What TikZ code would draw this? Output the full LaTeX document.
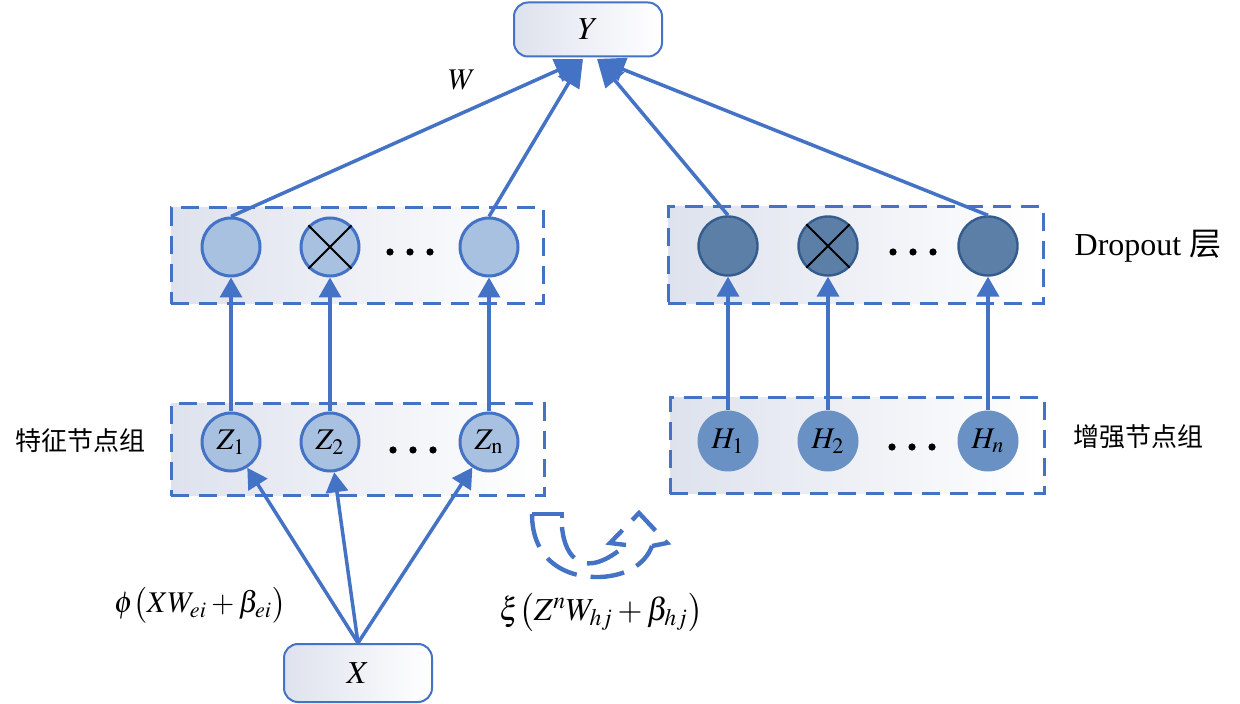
\documentclass[tikz,border=0pt]{standalone}
\usepackage{mathptmx}
\usepackage{fontspec}
\setmainfont{Liberation Serif}
\newfontfamily\cjk{Noto Sans CJK SC}
\usetikzlibrary{arrows.meta,shapes.geometric}
\definecolor{lb}{RGB}{68,114,196}
\definecolor{cfill}{RGB}{168,193,224}
\definecolor{dfill}{RGB}{92,127,168}
\definecolor{dstroke}{RGB}{52,92,140}
\definecolor{hfill}{RGB}{106,145,196}
\definecolor{bgl}{RGB}{222,226,237}
\tikzset{
  grp/.style={draw=lb, line width=1.5pt, dash pattern=on 9pt off 5pt, left color=bgl, right color=white, inner sep=0pt},
  ioBox/.style={draw=lb, line width=1pt, rounded corners=7pt, left color=bgl, right color=white, minimum width=74pt, minimum height=27pt, inner sep=0pt, font=\fontsize{16pt}{19pt}\selectfont},
  lc/.style={circle, draw=lb, line width=1.5pt, fill=cfill, minimum size=29pt, inner sep=0pt, font=\fontsize{15pt}{18pt}\selectfont},
  dc/.style={circle, draw=dstroke, line width=1.2pt, fill=dfill, minimum size=29.5pt, inner sep=0pt},
  hc/.style={circle, fill=hfill, minimum size=30.5pt, inner sep=0pt, font=\fontsize{15pt}{18pt}\selectfont},
  arr/.style={draw=lb, line width=1.75pt, -{Triangle[length=10pt,width=11pt]}},
  arrY/.style={draw=lb, line width=1.75pt, -{Triangle[length=14pt,width=12pt]}},
  crossln/.style={draw=black, line width=1pt},
  cdash/.style={draw=lb, line width=2.2pt, dash pattern=on 17pt off 7pt},
  dotf/.style={fill=black},
  cnlab/.style={font=\cjk\fontsize{13pt}{15pt}\selectfont},
  mlab/.style={font=\fontsize{16pt}{19pt}\selectfont},
}
\begin{document}
\begin{tikzpicture}[x=0.5pt, y=-0.5pt]
\useasboundingbox (0,0) rectangle (1240,704);
% group boxes
\node[grp, minimum width=186pt, minimum height=48pt] (G1) at (357,256) {};
\node[grp, minimum width=187.5pt, minimum height=48.5pt] (G2) at (855.5,255.5) {};
\node[grp, minimum width=186.5pt, minimum height=46pt] (G3) at (357.5,450) {};
\node[grp, minimum width=187pt, minimum height=48pt] (G4) at (857,446) {};
% dropout circles left
\node[lc] (D1) at (231,247) {};
\node[lc] (D2) at (330,247) {};
\node[lc] (D3) at (489,247) {};
\draw[crossln] (D2.45) -- (D2.225) (D2.135) -- (D2.315);
% dropout circles right
\node[dc] (E1) at (728,246) {};
\node[dc] (E2) at (828,246) {};
\node[dc] (E3) at (988,246) {};
\draw[crossln] (E2.45) -- (E2.225) (E2.135) -- (E2.315);
% feature nodes
\node[lc] (Z1) at (231,442) {$Z_{1}$};
\node[lc] (Z2) at (330,442) {$Z_{2}$};
\node[lc] (Z3) at (489,442) {$Z_{\mathrm{n}}$};
% enhancement nodes
\node[hc] (H1) at (728,441) {$H_{1}$};
\node[hc] (H2) at (828,441) {$H_{2}$};
\node[hc] (H3) at (988,441) {$H_{n}$};
% dots
\foreach \x in {390,410,430} \fill[dotf] (\x,252) circle (1.8pt);
\foreach \x in {893,913,933} \fill[dotf] (\x,252) circle (1.8pt);
\foreach \x in {393,413,433} \fill[dotf] (\x,450) circle (1.8pt);
\foreach \x in {892,912,932} \fill[dotf] (\x,447) circle (1.8pt);
% X box
\node[ioBox, minimum height=29pt] (X) at (358,673) {$X$};
% vertical arrows
\draw[arr] (Z1) -- (D1);
\draw[arr] (Z2) -- (D2);
\draw[arr] (Z3) -- (D3);
\draw[arr] (H1) -- (E1);
\draw[arr] (H2) -- (E2);
\draw[arr] (H3) -- (E3);
% X to Z
\draw[arr] (X.north) -- (Z1);
\draw[arr] (X.north) -- (Z2);
\draw[arr] (X.north) -- (Z3);
% to Y
\coordinate (YL) at (583,59);
\coordinate (YR) at (597,59);
\draw[arrY] (D1.north) -- (YL);
\draw[arrY] (D3.north) -- (YL);
\draw[arrY] (E1.north) -- (YR);
\draw[arrY] (E3.north) -- (YR);
\node[ioBox] (Y) at (588,29.5) {$Y$};
% labels
\node[mlab, font=\fontsize{15pt}{18pt}\selectfont] (W) at (462,80) {$W$};
\node[cnlab] (L1) at (80,441) {特征节点组};
\node[cnlab] (L2) at (1138,437) {增强节点组};
\node[mlab] (L3) at (1148,246) {Dropout {\cjk 层}};
\node[mlab, font=\fontsize{15pt}{18pt}\selectfont] (F1) at (200,605) {$\phi\bigl(XW_{ei}+\beta_{ei}\bigr)$};
\node[mlab] (F2) at (601,612) {$\xi\bigl(Z^{n}W_{hj}+\beta_{hj}\bigr)$};
% curved dashed arrow shape
\draw[cdash] (532,514) -- (562,514) -- (562,527);
\draw[cdash] (532,514) .. controls (532,556) and (560,578) .. (600,577) .. controls (625,576) and (645,565) .. (652,546);
\draw[cdash] (562,527) .. controls (565,560) and (585,580) .. (626,545);
\draw[cdash] (626,545) -- (610,543) -- (639,513) -- (667,543) -- (652,546);
\end{tikzpicture}
\end{document}
